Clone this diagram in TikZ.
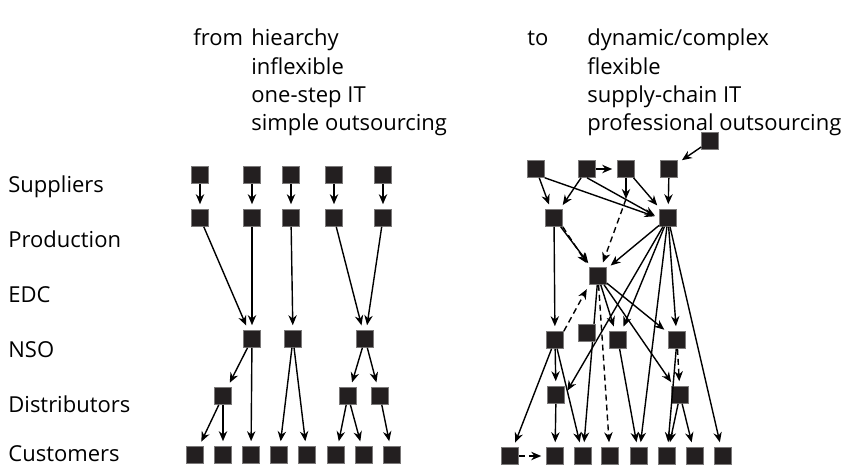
\documentclass[tikz,border=0pt]{standalone}
\usepackage{fontspec}
\setmainfont{Open Sans}
\usetikzlibrary{positioning,arrows.meta}
\definecolor{boxgray}{RGB}{35,31,32}
\tikzset{
  box/.style={rectangle,fill=boxgray,draw=boxgray!60,line width=0.3pt,minimum size=8.5pt,inner sep=0pt},
  lbl/.style={anchor=base west,inner sep=0pt,font=\fontsize{11}{13}\selectfont}
}

\begin{document}
\begin{tikzpicture}[x=0.5pt,y=-0.5pt,>={Stealth[length=5pt,width=4.2pt]}]
        \useasboundingbox (0,0) rectangle (847,466);
        \node[lbl] (from) at (193,46) {from};
        \node[lbl] (fa) at (251,46) {hiearchy};
        \node[lbl] (fb) at (251,74) {inflexible};
        \node[lbl] (fc) at (251,102) {one-step IT};
        \node[lbl] (fd) at (251,130) {simple outsourcing};
        \node[lbl] (to) at (527,46) {to};
        \node[lbl] (ta) at (587,46) {dynamic/complex};
        \node[lbl] (tb) at (587,74) {flexible};
        \node[lbl] (tc) at (587,102) {supply-chain IT};
        \node[lbl] (td) at (587,130) {professional outsourcing};
        \node[lbl] (sup) at (8,192) {Suppliers};
        \node[lbl] (pro) at (8,247) {Production};
        \node[lbl] (edc) at (8,302) {EDC};
        \node[lbl] (nso) at (8,357) {NSO};
        \node[lbl] (dis) at (8,412) {Distributors};
        \node[lbl] (cus) at (8,461) {Customers};
        \begin{scope}[every node/.style={box}]
            \node (ls1) at (200,175) {};
            \node (ls2) at (252,175) {};
            \node (ls3) at (291,175) {};
            \node (ls4) at (334,175) {};
            \node (ls5) at (383,175) {};
            \node (lp1) at (200,218) {};
            \node (lp2) at (252,218) {};
            \node (lp3) at (291,218) {};
            \node (lp4) at (334,218) {};
            \node (lp5) at (383,218) {};
            \node (ln1) at (252,339) {};
            \node (ln2) at (293,339) {};
            \node (ln3) at (365,339) {};
            \node (ld1) at (223,396) {};
            \node (ld2) at (348,396) {};
            \node (ld3) at (380,396) {};
            \node (lc1) at (195,455) {};
            \node (lc2) at (223,455) {};
            \node (lc3) at (251,455) {};
            \node (lc4) at (279,455) {};
            \node (lc5) at (307,455) {};
            \node (lc6) at (336,455) {};
            \node (lc7) at (364,455) {};
            \node (lc8) at (392,455) {};
            \node (rx) at (710,141) {};
            \node (rs1) at (536,169) {};
            \node (rs2) at (587,169) {};
            \node (rs3) at (626,169) {};
            \node (rs4) at (669,169) {};
            \node (rp1) at (554,218) {};
            \node (rp2) at (668,218) {};
            \node (redc) at (598,276) {};
            \node (rn1) at (555,340) {};
            \node (rnew) at (587,333) {};
            \node (rn3) at (618,340) {};
            \node (rn4) at (677,340) {};
            \node (rd1) at (556,395) {};
            \node (rd2) at (680,395) {};
            \node (rc1) at (510,456) {};
            \node (rc2) at (555,456) {};
            \node (rc3) at (583,456) {};
            \node (rc4) at (610,456) {};
            \node (rc5) at (639,456) {};
            \node (rc6) at (667,456) {};
            \node (rc7) at (695,456) {};
            \node (rc8) at (723,456) {};
        \end{scope}
        \coordinate (rj) at (626,199);
        \begin{scope}[every edge/.style={draw,line width=0.7pt,shorten >=2.5pt}]
            \path [->] (ls1) edge (lp1);
            \path [->] (ls2) edge (lp2);
            \path [->] (ls3) edge (lp3);
            \path [->] (ls4) edge (lp4);
            \path [->] (ls5) edge (lp5);
            \path [->] (lp1) edge (ln1);
            \path [->] (lp2) edge (ln1);
            \path [->] (lp3) edge (ln2);
            \path [->] (lp4) edge (ln3);
            \path [->] (lp5) edge (ln3);
            \path [->] (ln1) edge (ld1);
            \path [->] (ln1) edge (lc3);
            \path [->] (ld1) edge (lc1);
            \path [->] (ld1) edge (lc2);
            \path [->] (ln2) edge (lc4);
            \path [->] (ln2) edge (lc5);
            \path [->] (ln3) edge (ld2);
            \path [->] (ln3) edge (ld3);
            \path [->] (ld2) edge (lc6);
            \path [->] (ld2) edge (lc7);
            \path [->] (ld3) edge (lc8);
            \path [->] (rx) edge (rs4);
            \path [->] (rs2) edge (rs3);
            \path [->] (rs1) edge (rp1);
            \path [->] (rs1.south east) edge (rp2.west);
            \path [->] (rs2) edge (rp1);
            \path [->] (rs2.south) edge (rp2.west);
            \path [->] (rs3) edge[shorten >=0pt] (rj);
            \path [->] (rs3) edge (rp2);
            \path [->] (rs4) edge (rp2);
            \path [->] (rp1) edge (rn1);
            \path [->] (rp1) edge (redc);
            \path [->] (rp2) edge (redc);
            \path [->] (rp2) edge (rd1.east);
            \path [->] (rp2) edge (rn3);
            \path [->] (rp2) edge (rc5);
            \path [->] (rp2) edge (rn4);
            \path [->] (rp2) edge (rc8);
            \path [->] (redc) edge (rc3);
            \path [->] (redc) edge (rn3);
            \path [->] (redc) edge (rn4);
            \path [->] (redc) edge (rd2);
            \path [->] (rn1) edge (rc1);
            \path [->] (rn1) edge (rd1);
            \path [->] (rn1) edge (rc3);
            \path [->] (rd1) edge (rc2);
            \path [->] (rn3) edge (rc5);
            \path [->] (rn4) edge (rc6);
            \path [->] (rd2) edge (rc6);
            \path [->] (rd2) edge (rc7);
        \end{scope}
        \begin{scope}[every edge/.style={draw,dashed,dash pattern=on 3pt off 2pt,line width=0.7pt,shorten >=2.5pt}]
            \path [->] (rj) edge (redc);
            \path [->] (rp1.south east) edge (redc.north west);
            \path [->] (redc) edge (rc4);
            \path [->] (rn1.north east) edge (redc.south west);
            \path [->] (rc1) edge (rc2);
            \path [->] (rn4) edge (rd2);
        \end{scope}
        \node[box] (rtop) at (587,333) {};
    \end{tikzpicture}
\end{document}
